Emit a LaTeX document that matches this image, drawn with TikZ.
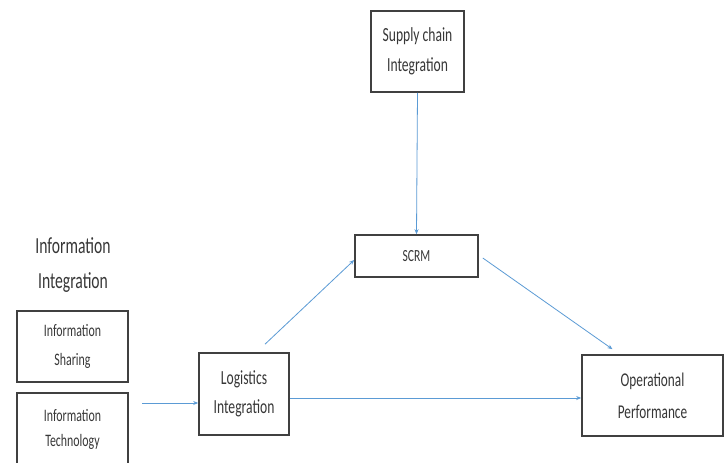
\documentclass[tikz,border=0pt]{standalone}
\usepackage{fontspec}
\setmainfont{Carlito}[FakeStretch=0.68]
\usetikzlibrary{arrows.meta}
\definecolor{boxline}{RGB}{64,64,64}
\definecolor{txt}{RGB}{55,55,55}
\definecolor{arrowblue}{RGB}{91,155,213}
\tikzset{
  box/.style={draw=boxline, line width=1.6pt, fill=white, inner sep=0pt, align=center, text=txt,
    font=\fontsize{20}{30}\selectfont},
  conn/.style={draw=arrowblue, line width=0.8pt, -{Stealth[length=5pt,width=4pt]}}
}
\begin{document}
\begin{tikzpicture}[x=1pt,y=-1pt]
\useasboundingbox (0,0) rectangle (726,463);
\clip (0,0) rectangle (726,463);
\fill[white] (0,0) rectangle (726,463);
\node[box, minimum width=93pt, minimum height=81pt] (sci) at (417.5,51.5) {Supply chain\\Integration};
\node[box, minimum width=123pt, minimum height=42pt, font=\fontsize{17}{20}\selectfont] (scrm) at (416.5,256) {SCRM};
\node[align=center, text=txt, font=\fontsize{23}{35}\selectfont] (ii) at (73,265.5) {Information\\Integration};
\node[box, minimum width=111pt, minimum height=71pt, font=\fontsize{17.5}{29}\selectfont] (is) at (72.5,346.5) {Information\\Sharing};
\node[box, minimum width=111pt, minimum height=72pt, font=\fontsize{17.5}{25}\selectfont] (it) at (72.5,429) {Information\\Technology};
\node[box, minimum width=90pt, minimum height=82pt, font=\fontsize{20}{29}\selectfont] (li) at (244,394) {Logistics\\Integration};
\node[box, minimum width=141pt, minimum height=81pt, font=\fontsize{19.5}{32}\selectfont] (op) at (652.5,395.5) {Operational\\Performance};
\coordinate (infoout) at (142,403);
\coordinate (liout) at ([yshift=-4pt]li.east);
\draw[conn] (sci.south) -- (scrm.north);
\draw[conn] (infoout) -- (li.west |- infoout);
\draw[conn] ([xshift=21pt,yshift=8pt]li.north) -- ([yshift=-4pt]scrm.west);
\draw[conn] ([xshift=4pt,yshift=-2pt]scrm.east) -- ([xshift=-40pt,yshift=5pt]op.north);
\draw[conn] (liout) -- (op.west |- liout);
\end{tikzpicture}
\end{document}
